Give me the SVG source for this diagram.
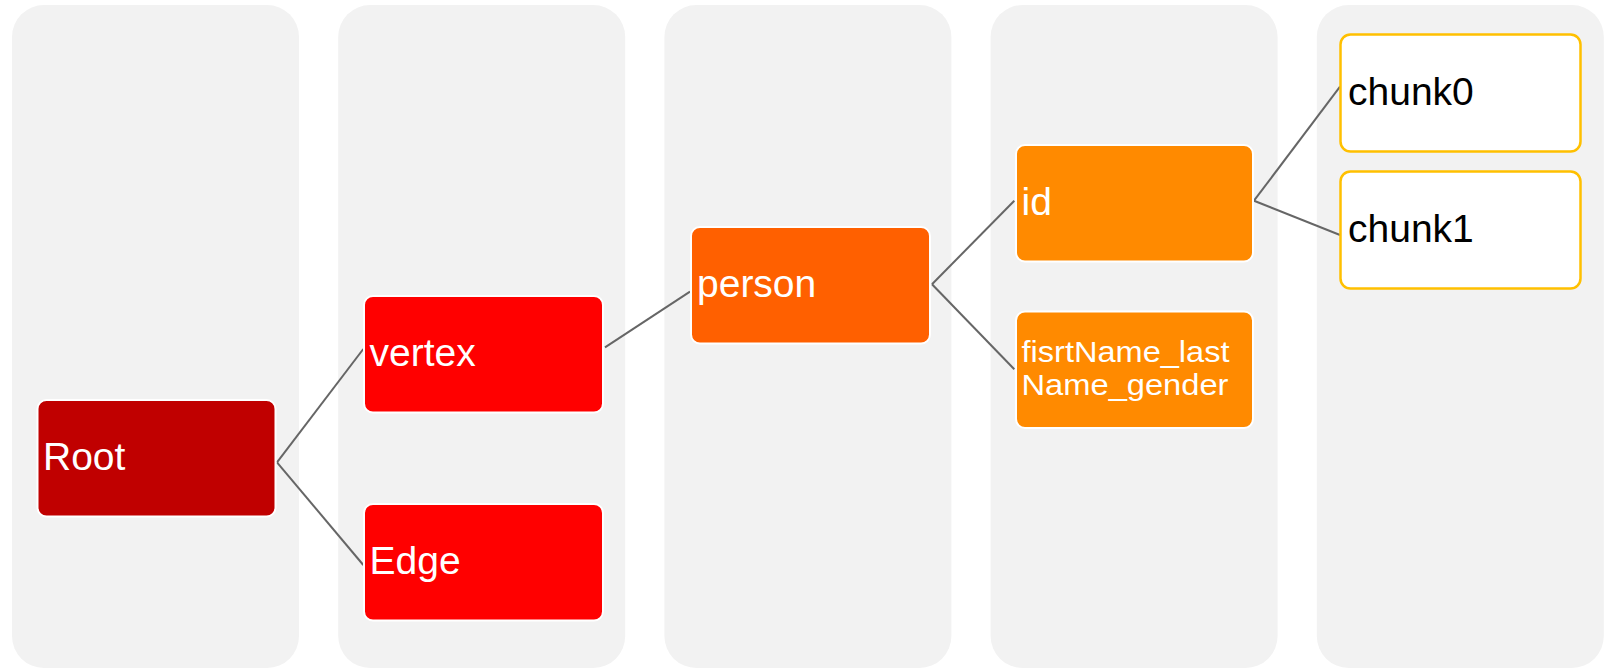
<svg xmlns="http://www.w3.org/2000/svg" width="1615" height="668" viewBox="0 0 1615 668">
<style>
.col{fill:#F2F2F2}
.node{stroke:#FFFFFF;stroke-width:2}
.leaf{fill:#FFFFFF;stroke:#FFC000;stroke-width:2.5}
.lbl{font-family:"Liberation Sans",Arial,sans-serif;font-size:39px;fill:#FFFFFF}
.lbl2{font-family:"Liberation Sans",Arial,sans-serif;font-size:30px;fill:#FFFFFF}
.dark{fill:#000000}
.conn{stroke:#666666;stroke-width:2;fill:none}
</style>
<rect width="1615" height="668" fill="#FFFFFF"/>
<g id="columns">
<rect class="col" x="12" y="5" width="287" height="663" rx="32"/>
<rect class="col" x="338.2" y="5" width="287" height="663" rx="32"/>
<rect class="col" x="664.4" y="5" width="287" height="663" rx="32"/>
<rect class="col" x="990.6" y="5" width="287" height="663" rx="32"/>
<rect class="col" x="1316.8" y="5" width="287" height="663" rx="32"/>
</g>
<g id="connectors">
<line class="conn" x1="277" y1="462.3" x2="363.3" y2="349"/>
<line class="conn" x1="277" y1="462.3" x2="363.3" y2="565"/>
<line class="conn" x1="605" y1="347.3" x2="690" y2="291.7"/>
<line class="conn" x1="932" y1="284.3" x2="1014.3" y2="200.7"/>
<line class="conn" x1="932" y1="284.3" x2="1014.3" y2="369.3"/>
<line class="conn" x1="1254" y1="200.7" x2="1340" y2="86.7"/>
<line class="conn" x1="1254" y1="200.7" x2="1340" y2="235"/>
</g>
<g id="node-root">
<rect class="node" x="37.5" y="400" width="238" height="116.5" rx="9" fill="#C00000"/>
<text class="lbl" x="43" y="469.5">Root</text>
</g>
<g id="node-vertex">
<rect class="node" x="364" y="296" width="239" height="116.5" rx="9" fill="#FF0000"/>
<text class="lbl" x="369.5" y="366">vertex</text>
</g>
<g id="node-edge">
<rect class="node" x="364" y="504" width="239" height="116.5" rx="9" fill="#FF0000"/>
<text class="lbl" x="369.5" y="573.5">Edge</text>
</g>
<g id="node-person">
<rect class="node" x="691" y="227" width="239" height="116.5" rx="9" fill="#FF6000"/>
<text class="lbl" x="697" y="297">person</text>
</g>
<g id="node-id">
<rect class="node" x="1016" y="145" width="237" height="116.5" rx="9" fill="#FF8A00"/>
<text class="lbl" x="1021.5" y="214.5">id</text>
</g>
<g id="node-fisrtName">
<rect class="node" x="1016" y="311.5" width="237" height="116.5" rx="9" fill="#FF8A00"/>
<text class="lbl2" x="1021.5" y="361.5" textLength="208" lengthAdjust="spacingAndGlyphs">fisrtName_last</text>
<text class="lbl2" x="1021.5" y="394.5" textLength="207" lengthAdjust="spacingAndGlyphs">Name_gender</text>
</g>
<g id="node-chunk0">
<rect class="leaf" x="1340.5" y="34.5" width="240" height="117" rx="10"/>
<text class="lbl dark" x="1348" y="104.5">chunk0</text>
</g>
<g id="node-chunk1">
<rect class="leaf" x="1340.5" y="171.5" width="240" height="117" rx="10"/>
<text class="lbl dark" x="1348" y="242">chunk1</text>
</g>
</svg>
